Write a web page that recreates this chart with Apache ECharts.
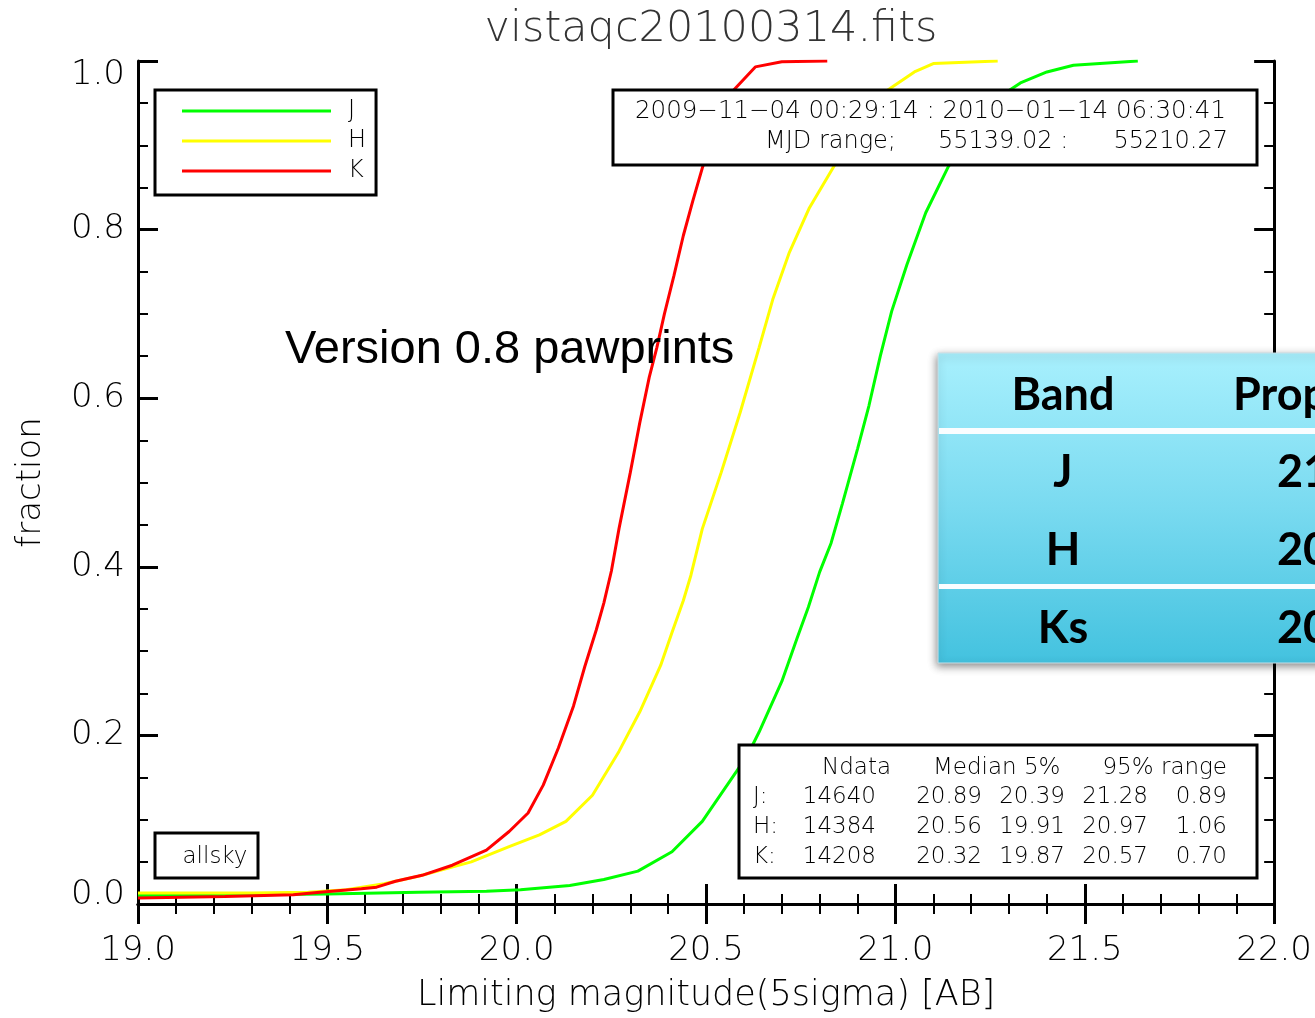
<!DOCTYPE html>
<html>
<head>
<meta charset="utf-8">
<script src="https://cdn.jsdelivr.net/npm/echarts@6/dist/echarts.min.js"></script>
<style>html,body{margin:0;padding:0;background:#fff;}#c{width:1315px;height:1018px;}</style>
</head>
<body>
<div id="c"></div>
<script>
// ---- data ----
const titleText = 'vistaqc20100314.fits';
const bandNames = ['J', 'H', 'K'];
const bandColors = ['#00ff00', '#ffff00', '#ff0000'];

const seriesJ = [[19.00,0.010],[19.30,0.011],[19.50,0.012],[19.74,0.014],[19.92,0.015],[20.01,0.017],[20.14,0.022],[20.23,0.029],[20.32,0.039],[20.41,0.062],[20.49,0.098],[20.58,0.157],[20.61,0.177],[20.64,0.204],[20.70,0.264],[20.74,0.315],[20.77,0.352],[20.80,0.394],[20.83,0.428],[20.86,0.475],[20.90,0.540],[20.93,0.591],[20.96,0.650],[20.99,0.703],[21.03,0.758],[21.08,0.820],[21.14,0.875],[21.22,0.926],[21.29,0.962],[21.33,0.974],[21.40,0.987],[21.47,0.995],[21.64,1.0]];
const seriesH = [[19.00,0.013],[19.30,0.013],[19.45,0.014],[19.55,0.017],[19.65,0.024],[19.74,0.033],[19.88,0.050],[19.98,0.068],[20.06,0.082],[20.13,0.098],[20.20,0.129],[20.27,0.181],[20.325,0.228],[20.38,0.283],[20.41,0.322],[20.44,0.360],[20.46,0.390],[20.49,0.445],[20.54,0.512],[20.59,0.583],[20.64,0.660],[20.676,0.717],[20.72,0.773],[20.773,0.826],[20.84,0.877],[20.91,0.930],[20.975,0.964],[21.05,0.987],[21.10,0.997],[21.27,1.0]];
const seriesK = [[19.00,0.007],[19.23,0.009],[19.41,0.011],[19.48,0.014],[19.59,0.018],[19.63,0.020],[19.68,0.027],[19.75,0.034],[19.83,0.046],[19.92,0.064],[19.98,0.086],[20.03,0.108],[20.07,0.141],[20.11,0.185],[20.15,0.235],[20.18,0.282],[20.21,0.325],[20.23,0.357],[20.25,0.395],[20.27,0.445],[20.30,0.512],[20.325,0.571],[20.35,0.625],[20.37,0.660],[20.39,0.700],[20.415,0.745],[20.44,0.793],[20.465,0.834],[20.49,0.873],[20.53,0.926],[20.57,0.964],[20.63,0.993],[20.70,0.999],[20.82,1.0]];

const xTicks = {min: 19.0, max: 22.0, interval: 0.5};
const yTicks = {min: 0.0, max: 1.0, interval: 0.2};

const infoLine1 = '2009\u221211\u221204 00:29:14 : 2010\u221201\u221214 06:30:41';
const infoLine2 = ['MJD range;', '55139.02 :', '55210.27'];

const statHeader = ['Ndata', 'Median 5%', '95% range'];
const statRows = ['J:', 'H:', 'K:'];
const statNdata = ['14640', '14384', '14208'];
const statMedian = ['20.89', '20.56', '20.32'];
const stat5 = ['20.39', '19.91', '19.87'];
const stat95 = ['21.28', '20.97', '20.57'];
const statRange = ['0.89', '1.06', '0.70'];

const versionText = 'Version 0.8 pawprints';
const tableHeader = ['Band', 'Prop'];
const tableBands = ['J', 'H', 'Ks'];
const tableValues = ['21', '20', '20'];

// ---- chart ----
const FONT = "'DejaVu Sans', sans-serif";
const TXT = '#000';
const chart = echarts.init(document.getElementById('c'));

function axisCommon(showLabel) {
  return {
    axisLine: {show: true, lineStyle: {color: '#000', width: 3}},
    axisTick: {show: true, inside: true, length: 20, lineStyle: {color: '#000', width: 3}},
    splitLine: {show: false},
    axisLabel: {show: showLabel}
  };
}

const g = [];
function txt(x, y, s, opt) {
  g.push(Object.assign({type: 'text', x: x, y: y, z: 50,
    style: Object.assign({text: s, font: '200 23px ' + FONT, fill: TXT, textAlign: 'left', textVerticalAlign: 'middle'}, opt || {})}));
}
function box(x, y, w, h) {
  g.push({type: 'rect', z: 40, shape: {x: x, y: y, width: w, height: h}, style: {fill: '#fff', stroke: '#000', lineWidth: 3}});
}

// info box
box(613, 90, 644, 75);
txt(1226, 112, infoLine1, {textAlign: 'right', font: '200 24.5px ' + FONT});
txt(765, 142, infoLine2[0], {font: '200 24px ' + FONT});
txt(938, 142, infoLine2[1], {font: '200 24px ' + FONT});
txt(1228, 142, infoLine2[2], {textAlign: 'right', font: '200 24px ' + FONT});

// stats box
box(739, 745, 518, 133);
const rowY = [797, 827, 857];
txt(891, 768, statHeader[0], {textAlign: 'right'});
txt(933, 768, statHeader[1]);
txt(1227, 768, statHeader[2], {textAlign: 'right'});
for (let i = 0; i < 3; i++) {
  txt(753, rowY[i], statRows[i]);
  txt(876, rowY[i], statNdata[i], {textAlign: 'right'});
  txt(982, rowY[i], statMedian[i], {textAlign: 'right'});
  txt(1065, rowY[i], stat5[i], {textAlign: 'right'});
  txt(1148, rowY[i], stat95[i], {textAlign: 'right'});
  txt(1227, rowY[i], statRange[i], {textAlign: 'right'});
}

// allsky box
box(155, 833, 103, 45);
txt(215, 857, 'allsky', {textAlign: 'center'});

// version text
txt(285, 350, versionText, {font: '47px "Liberation Sans", Arial, sans-serif', fill: '#000'});

// overlay table
const tFont = 'bold 45px Lato, "Open Sans", sans-serif';
g.push({type: 'rect', z: 60, shape: {x: 938, y: 353, width: 400, height: 310},
  style: {fill: new echarts.graphic.LinearGradient(0, 0, 0, 1, [
    {offset: 0, color: '#a8f0fd'}, {offset: 0.5, color: '#79daf0'}, {offset: 1, color: '#43c2df'}]),
    stroke: '#c9dfe6', lineWidth: 1, shadowBlur: 8, shadowColor: 'rgba(0,0,0,0.45)', shadowOffsetX: -1, shadowOffsetY: 3}});
g.push({type: 'rect', z: 61, shape: {x: 939, y: 428, width: 400, height: 6}, style: {fill: '#fafdff'}});
g.push({type: 'rect', z: 61, shape: {x: 939, y: 584, width: 400, height: 5}, style: {fill: '#fafdff'}});
function ttxt(x, y, s, align) {
  g.push({type: 'text', x: x, y: y, z: 62,
    style: {text: s, font: tFont, fill: '#000', textAlign: align, textVerticalAlign: 'middle'}});
}
ttxt(1063, 395, tableHeader[0], 'center');
ttxt(1233, 395, tableHeader[1], 'left');
const tRowY = [472, 550, 628];
for (let i = 0; i < 3; i++) {
  ttxt(1063, tRowY[i], tableBands[i], 'center');
  ttxt(1277, tRowY[i], tableValues[i], 'left');
}

const lineSeries = [seriesJ, seriesH, seriesK].map((d, i) => ({
  name: bandNames[i], type: 'line', data: d, symbol: 'none', smooth: false,
  lineStyle: {color: bandColors[i], width: 3}, itemStyle: {color: bandColors[i]},
  xAxisIndex: 0, yAxisIndex: 0, z: 5, animation: false
}));

const minorX = {show: true, splitNumber: 5, length: 10, lineStyle: {color: '#000', width: 2}};
const minorY = {show: true, splitNumber: 4, length: 10, lineStyle: {color: '#000', width: 2}};
const labelFont = {fontFamily: FONT, fontWeight: 200, fontSize: 34, color: TXT};

chart.setOption({
  animation: false,
  backgroundColor: '#fff',
  title: {text: titleText, left: 706, textAlign: 'center', top: 3,
    textStyle: {fontFamily: FONT, fontWeight: 200, fontSize: 43, color: '#333'}},
  grid: {left: 138, right: 40, top: 61, bottom: 112, containLabel: false},
  legend: {
    data: bandNames, orient: 'vertical', left: 155, top: 90,
    padding: [9, 10, 12, 27], itemWidth: 149, itemHeight: 3, itemGap: 6,
    borderColor: '#000', borderWidth: 3, backgroundColor: '#fff', z: 40,
    textStyle: {fontFamily: FONT, fontWeight: 200, fontSize: 24, lineHeight: 24, color: TXT, padding: [0, 0, 0, 12]},
    icon: 'rect'
  },
  xAxis: [
    Object.assign(axisCommon(true), {
      type: 'value', position: 'bottom', min: xTicks.min, max: xTicks.max, interval: xTicks.interval,
      minorTick: minorX,
      axisLabel: Object.assign({show: true, margin: 30, formatter: v => v.toFixed(1)}, labelFont),
      name: 'Limiting magnitude(5sigma) [AB]', nameLocation: 'middle', nameGap: 74,
      nameTextStyle: {fontFamily: FONT, fontWeight: 200, fontSize: 35, color: TXT}
    }),
    Object.assign(axisCommon(false), {
      type: 'value', position: 'top', min: xTicks.min, max: xTicks.max, interval: xTicks.interval,
      minorTick: minorX
    })
  ],
  yAxis: [
    Object.assign(axisCommon(true), {
      type: 'value', position: 'left', min: yTicks.min, max: yTicks.max, interval: yTicks.interval,
      minorTick: minorY,
      axisLabel: Object.assign({show: true, margin: 13,
        formatter: v => v === yTicks.min ? '{lo|' + v.toFixed(1) + '}' : (v === yTicks.max ? '{hi|' + v.toFixed(1) + '}' : v.toFixed(1)),
        verticalAlignMinLabel: 'bottom', verticalAlignMaxLabel: 'top',
        rich: {lo: Object.assign({lineHeight: 18}, labelFont), hi: Object.assign({lineHeight: 28}, labelFont)}}, labelFont),
      name: 'fraction', nameLocation: 'middle', nameGap: 90,
      nameTextStyle: {fontFamily: FONT, fontWeight: 200, fontSize: 34, color: TXT}
    }),
    Object.assign(axisCommon(false), {
      type: 'value', position: 'right', min: yTicks.min, max: yTicks.max, interval: yTicks.interval,
      minorTick: minorY
    })
  ],
  series: lineSeries,
  graphic: g
});
</script>
</body>
</html>
